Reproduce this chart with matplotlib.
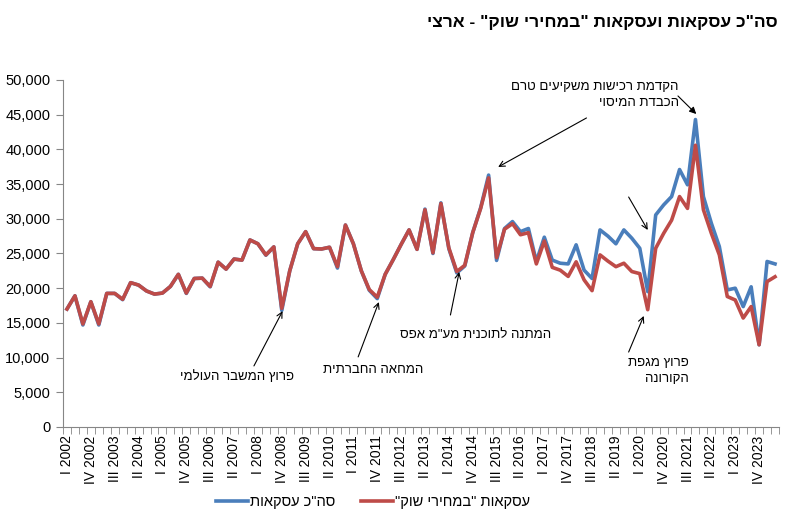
import numpy as np
from matplotlib import pyplot as plt


# quarterly values, I 2002 .. II 2024
roman = ["I", "II", "III", "IV"]
years = list(range(2002, 2025))

total_deals = [
	17000, 18900, 14700, 18050, 14700, 19250, 19250, 18350, 20800, 20450,
	19600, 19150, 19300, 20250, 22000, 19250, 21400, 21450, 20200, 23750,
	22750, 24200, 24050, 26950, 26400, 24750, 25950, 16800, 22500, 26400,
	28150, 25700, 25650, 25900, 22900, 29100, 26400, 22500, 19700, 18500,
	22000, 24100, 26300, 28400, 25600, 31400, 25000, 32300, 25700, 22200,
	23200, 28000, 31600, 36300, 24000, 28600, 29600, 28150, 28600, 23850,
	27350, 24050, 23600, 23500, 26250, 22600, 21400, 28400, 27500, 26400,
	28400, 27200, 25750, 19500, 30550, 32000, 33200, 37100, 34900, 44300,
	33200, 29350, 26000, 19750, 20000, 17350, 20200, 11850, 23850, 23500,
]

market_deals = [
	17000, 18900, 14850, 18050, 14850, 19250, 19250, 18400, 20800, 20450,
	19600, 19150, 19300, 20250, 22000, 19300, 21400, 21450, 20250, 23750,
	22750, 24200, 24050, 26950, 26400, 24800, 25950, 17100, 22500, 26400,
	28150, 25700, 25650, 25900, 23100, 29100, 26400, 22500, 19800, 18700,
	22000, 24100, 26300, 28400, 25600, 31300, 25100, 32200, 25800, 22400,
	23300, 28000, 31500, 35900, 24400, 28500, 29300, 27700, 28000, 23500,
	26800, 23000, 22600, 21700, 23800, 21200, 19650, 24800, 23900, 23100,
	23600, 22400, 22100, 16900, 25750, 27900, 29800, 33200, 31500, 40600,
	31300, 27900, 24800, 18800, 18300, 15700, 17350, 11850, 20950, 21650,
]

title = 'סה"כ עסקאות ועסקאות "במחירי שוק" - ארצי'
series_names = ['סה"כ עסקאות', 'עסקאות "במחירי שוק"']

# (text, text x, text y, arrow from x, from y, arrow to x, to y)
notes = [
	("פרוץ המשבר העולמי", 21.4, 7200, 23.5, 8800, 27.1, 16700),
	("המחאה החברתית", 38.5, 8200, 36.6, 10100, 39.2, 18000),
	('המתנה לתוכנית מע"מ אפס', 51.4, 13260, 48.2, 16140, 49.3, 22340),
	("פרוץ מגפת\nהקורונה", 78.2, 8070, 70.6, 10800, 72.5, 16000),
]
invest_note = "הקדמת רכישות משקיעים טרם\nהכבדת המיסוי"


def rtl(s):
	# matplotlib has no bidi, so flip every line
	return "\n".join(line[::-1] for line in s.split("\n"))


plt.rcParams['font.family'] = ['Liberation Sans', 'DejaVu Sans']
grey = "#868686"

labels = []
for y in years:
	for q in roman:
		labels.append(q + " " + str(y))
labels = labels[:len(total_deals)]
x = np.arange(len(total_deals))

fig = plt.figure(figsize=(7.94, 5.2), dpi=100)
ax = fig.add_axes([63 / 794, 1 - 427 / 520, 716 / 794, 347 / 520])

ax.plot(x, total_deals, color="#4A7EBB", lw=2.6, solid_joinstyle="round", label=rtl(series_names[0]))
ax.plot(x, market_deals, color="#BE4B48", lw=2.6, solid_joinstyle="round", label=rtl(series_names[1]))

ax.set_xlim(-0.5, len(x) - 0.5)
ax.set_ylim(0, 50000)
ax.set_yticks(np.arange(0, 50001, 5000))
ax.set_yticklabels(["{:,}".format(v) for v in range(0, 50001, 5000)], fontsize=10.5)
ax.set_xticks(x[::3])
ax.set_xticklabels(labels[::3], rotation=90, fontsize=10)
ax.set_xticks(np.arange(-0.5, len(x), 1), minor=True)
ax.tick_params(axis="x", which="major", length=0, pad=6)
ax.tick_params(axis="x", which="minor", length=5, color=grey, direction="out")
ax.tick_params(axis="y", length=5, color=grey, direction="out", pad=4)

for s in ["top", "right"]:
	ax.spines[s].set_visible(False)
for s in ["left", "bottom"]:
	ax.spines[s].set_color(grey)

arrow = dict(arrowstyle="->", color="black", lw=0.8, shrinkA=0, shrinkB=0)
for txt, tx, ty, ax0, ay0, ax1, ay1 in notes:
	if "\n" in txt:
		ax.text(tx, ty, rtl(txt), ha="right", va="center", fontsize=9.5, linespacing=1.5)
	else:
		ax.text(tx, ty, rtl(txt), ha="center", va="center", fontsize=9.5)
	ax.annotate("", xy=(ax1, ay1), xytext=(ax0, ay0), arrowprops=arrow)

ax.text(76.9, 47840, rtl(invest_note), ha="right", va="center", fontsize=9.5, linespacing=1.5)
ax.annotate("", xy=(54.2, 37470), xytext=(65.3, 44530), arrowprops=arrow)
ax.annotate("", xy=(79.1, 45100), xytext=(76.8, 47700),
			arrowprops=dict(arrowstyle="-|>", color="black", lw=0.8, shrinkA=0, shrinkB=0, mutation_scale=10))
ax.annotate("", xy=(73.0, 28390), xytext=(70.6, 33140), arrowprops=arrow)

fig.text(778 / 794, 1 - 22 / 520, rtl(title), ha="right", va="center", fontsize=12.5, fontweight="bold")

fig.legend(loc="center", bbox_to_anchor=(373 / 794, 1 - 502 / 520), ncol=2, frameon=False,
		   fontsize=10.5, handlelength=2.2, handletextpad=0.1, columnspacing=1.8)

fig.savefig("out.png", dpi=100)
